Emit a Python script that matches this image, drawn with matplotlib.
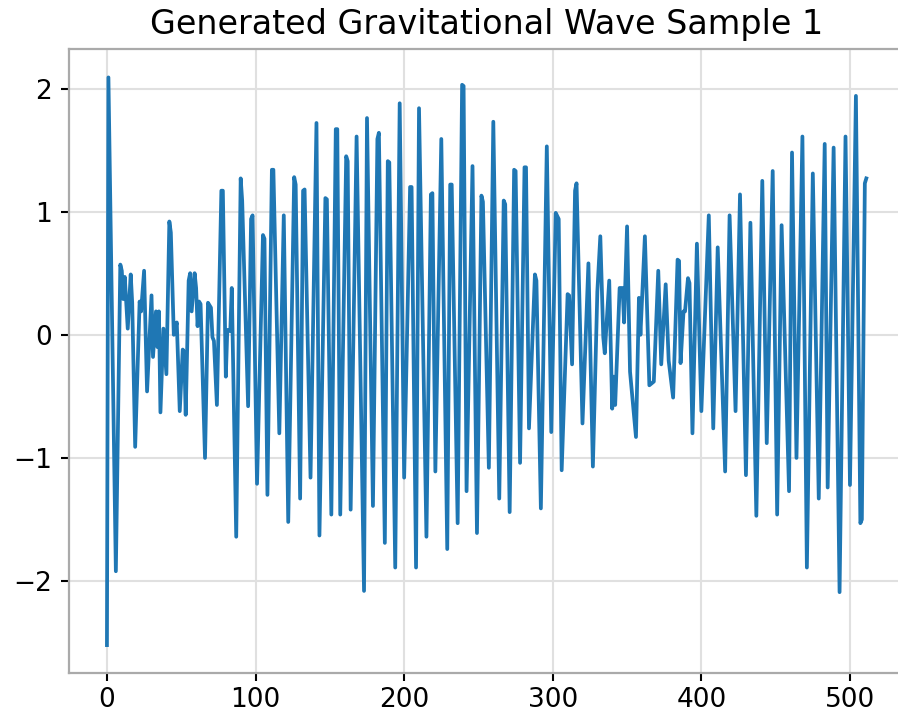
import matplotlib.pyplot as plt
import numpy as np

# sample index / value of each turning point of the waveform
sample_idx = [0, 1, 6, 9, 10, 11, 12, 14, 16, 17, 19, 22, 23, 25, 27, 30, 31, 33, 34, 35,
              36, 38, 40, 42, 43, 45, 47, 49, 51, 52, 53, 55, 56, 57, 59, 60, 61, 62, 63, 66,
              68, 70, 71, 72, 74, 77, 78, 80, 81, 83, 84, 87, 90, 91, 95, 97, 98, 101, 105, 106,
              108, 111, 112, 116, 119, 122, 126, 127, 130, 132, 133, 137, 141, 143, 147, 148, 151, 154, 155, 157,
              161, 162, 164, 168, 173, 175, 179, 182, 183, 187, 189, 190, 194, 197, 200, 204, 205, 208, 210, 215,
              218, 219, 221, 225, 229, 231, 232, 236, 239, 240, 242, 246, 249, 252, 253, 257, 260, 264, 267, 268,
              271, 274, 275, 278, 281, 282, 284, 288, 289, 292, 296, 299, 302, 304, 306, 310, 311, 313, 315, 316,
              320, 324, 327, 330, 332, 334, 335, 338, 340, 341, 342, 345, 347, 348, 350, 352, 356, 358, 359, 362,
              365, 368, 371, 373, 376, 378, 381, 384, 385, 386, 388, 389, 391, 392, 394, 397, 400, 405, 408, 411,
              416, 419, 423, 426, 430, 433, 437, 441, 444, 448, 451, 454, 459, 461, 464, 468, 471, 475, 479, 483,
              485, 489, 493, 497, 500, 504, 507, 508, 510, 511]
strain = [-2.52, 2.09, -1.92, 0.57, 0.52, 0.29, 0.47, 0.05, 0.49, 0.26, -0.91, 0.27, 0.19, 0.52, -0.46, 0.32, -0.18, 0.19, -0.10, 0.19,
          -0.63, 0.05, -0.32, 0.92, 0.83, 0.00, 0.10, -0.62, -0.12, -0.14, -0.65, 0.44, 0.50, 0.19, 0.50, 0.38, 0.07, 0.27, 0.25, -1.00,
          0.26, 0.22, -0.02, -0.05, -0.57, 1.17, 1.17, -0.34, 0.04, 0.03, 0.38, -1.64, 1.27, 1.09, -0.58, 0.94, 0.97, -1.21, 0.81, 0.78,
          -1.30, 1.34, 1.34, -0.80, 0.97, -1.52, 1.28, 1.22, -1.33, 1.17, 1.18, -1.16, 1.72, -1.63, 1.11, 1.10, -1.46, 1.67, 1.67, -1.46,
          1.45, 1.41, -1.42, 1.61, -2.08, 1.76, -1.39, 1.59, 1.64, -1.69, 1.41, 1.40, -1.89, 1.88, -1.16, 1.20, 1.20, -1.89, 1.84, -1.64,
          1.14, 1.15, -1.11, 1.59, -1.74, 1.22, 1.22, -1.53, 2.03, 2.02, -1.27, 1.37, -1.61, 1.13, 1.08, -1.08, 1.73, -1.33, 1.09, 1.06,
          -1.44, 1.34, 1.33, -1.04, 1.36, 1.36, -0.76, 0.49, 0.44, -1.41, 1.53, -0.79, 0.99, 0.94, -1.10, 0.33, 0.32, -0.24, 1.17, 1.23,
          -0.72, 0.58, -1.07, 0.35, 0.80, -0.02, -0.15, 0.44, -0.60, -0.34, -0.57, 0.38, 0.38, 0.10, 0.88, -0.30, -0.83, 0.30, 0.00, 0.80,
          -0.41, -0.38, 0.52, -0.24, 0.41, -0.21, -0.51, 0.61, 0.60, -0.23, 0.19, 0.19, 0.46, 0.42, -0.80, 0.74, -0.62, 0.97, -0.76, 0.71,
          -1.11, 0.97, -0.62, 1.14, -1.14, 0.91, -1.47, 1.25, -0.88, 1.33, -1.46, 0.89, -1.27, 1.48, -1.00, 1.61, -1.89, 1.31, -1.33, 1.55,
          -1.24, 1.52, -2.09, 1.61, -1.22, 1.94, -1.53, -1.50, 1.23, 1.27]

fig = plt.figure(figsize=(8.98, 7.19), dpi=100)
# axes run a bit past the right edge, like the cropped original
ax = fig.add_axes([0.0768, 0.0633, 0.9302, 0.8685])

ax.plot(sample_idx, strain, color='#1f77b4', lw=2.7)

ax.set_title('Generated Gravitational Wave Sample 1', fontsize=24, pad=11)
ax.set_xticks([0, 100, 200, 300, 400, 500])
ax.set_yticks([-2, -1, 0, 1, 2])
ax.tick_params(labelsize=19, length=6, width=1.5, pad=6)
ax.tick_params(axis='x', pad=4)
ax.grid(True, color='#e0e0e0', lw=1.5)
ax.set_axisbelow(True)
for s in ax.spines.values():
    s.set_color('#aaaaaa')
    s.set_linewidth(1.6)

fig.savefig('out.png', dpi=100)
